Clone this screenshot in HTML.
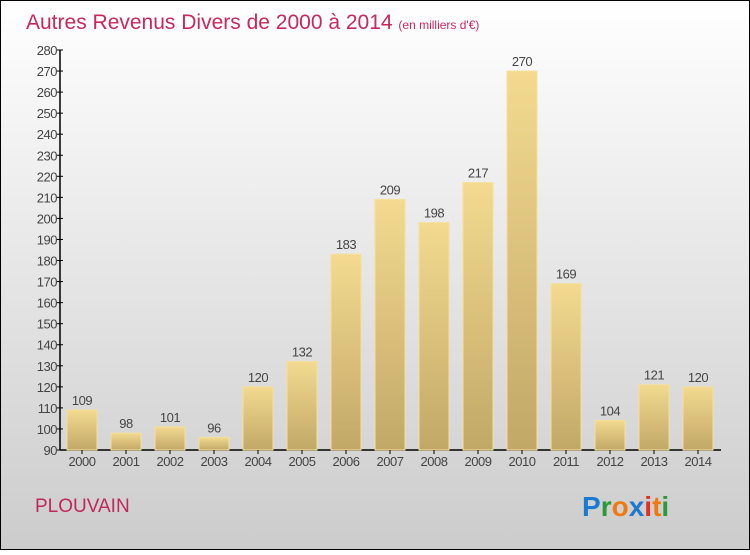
<!DOCTYPE html>
<html><head><meta charset="utf-8"><style>
body{margin:0;width:750px;height:550px;overflow:hidden;font-family:"Liberation Sans",sans-serif}
</style></head><body>
<svg width="750" height="550" xmlns="http://www.w3.org/2000/svg">
<defs>
<linearGradient id="bg" x1="0" y1="0" x2="0" y2="1"><stop offset="0" stop-color="#ffffff"/><stop offset="1" stop-color="#cccccc"/></linearGradient>
<linearGradient id="bar" x1="0" y1="0" x2="0" y2="1"><stop offset="0" stop-color="#f3da90"/><stop offset="1" stop-color="#c2a867"/></linearGradient>
</defs>
<rect x="0.5" y="0.5" width="749" height="549" fill="url(#bg)" stroke="#000"/>
<text x="26" y="29" font-size="21" fill="#c8285c">Autres Revenus Divers de 2000 à 2014 <tspan font-size="12">(en milliers d'€)</tspan></text>
<g id="yaxis"></g>
<g id="bars"></g>
<text x="35" y="512" font-size="19" fill="#c0285a">PLOUVAIN</text>
<text x="582" y="516" font-size="28" font-weight="bold"><tspan fill="#1a7ad0">P</tspan><tspan fill="#2a9a3a">r</tspan><tspan fill="#f07a10">o</tspan><tspan fill="#1a7ad0">x</tspan><tspan fill="#e03020">i</tspan><tspan fill="#f07a10">t</tspan><tspan fill="#2a9a3a">i</tspan></text>
</svg>
<script>
const categories=["2000","2001","2002","2003","2004","2005","2006","2007","2008","2009","2010","2011","2012","2013","2014"];
const values=[109,98,101,96,120,132,183,209,198,217,270,169,104,121,120];
const yTicks=[90,100,110,120,130,140,150,160,170,180,190,200,210,220,230,240,250,260,270,280];
const NS="http://www.w3.org/2000/svg";
const y0=450,yTop=50,vMin=90,vMax=280;
function yScale(v){return y0-(v-vMin)*(y0-yTop)/(vMax-vMin);}
function xScale(i){return 82+i*44;}
function mk(tag,attrs,parent){const e=document.createElementNS(NS,tag);for(const k in attrs)e.setAttribute(k,attrs[k]);parent.appendChild(e);return e;}
const ya=document.getElementById('yaxis');
const l1=mk('line',{x1:60,y1:y0,x2:721,y2:y0,stroke:'#000','stroke-width':1.5},ya);


const l2=mk('line',{x1:60,y1:yTop,x2:60,y2:y0,stroke:'#000','stroke-width':1.5},ya);


yTicks.forEach(t=>{const y=yScale(t);
mk('line',{x1:57,y1:y,x2:63,y2:y,stroke:'#000'},ya);
const tx=mk('text',{x:57,y:y+5,'font-size':13,fill:'#444','text-anchor':'end','letter-spacing':'-0.5'},ya);tx.textContent=t;

});
const bg=document.getElementById('bars');
categories.forEach((c,i)=>{const cx=xScale(i),y=yScale(values[i]);
const r=mk('rect',{x:cx-15,y:y,width:30,height:y0-y,fill:'url(#bar)',stroke:'#f5e09a','stroke-width':1},bg);


const v=mk('text',{x:cx,y:y-5,'font-size':13,fill:'#444','text-anchor':'middle','letter-spacing':'-0.5'},bg);v.textContent=values[i];


mk('line',{x1:cx,y1:y0,x2:cx,y2:y0+4,stroke:'#000'},bg);
const xl=mk('text',{x:cx,y:y0+16,'font-size':13,fill:'#444','text-anchor':'middle','letter-spacing':'-0.5'},bg);xl.textContent=c;

});
</script>
</body></html>
